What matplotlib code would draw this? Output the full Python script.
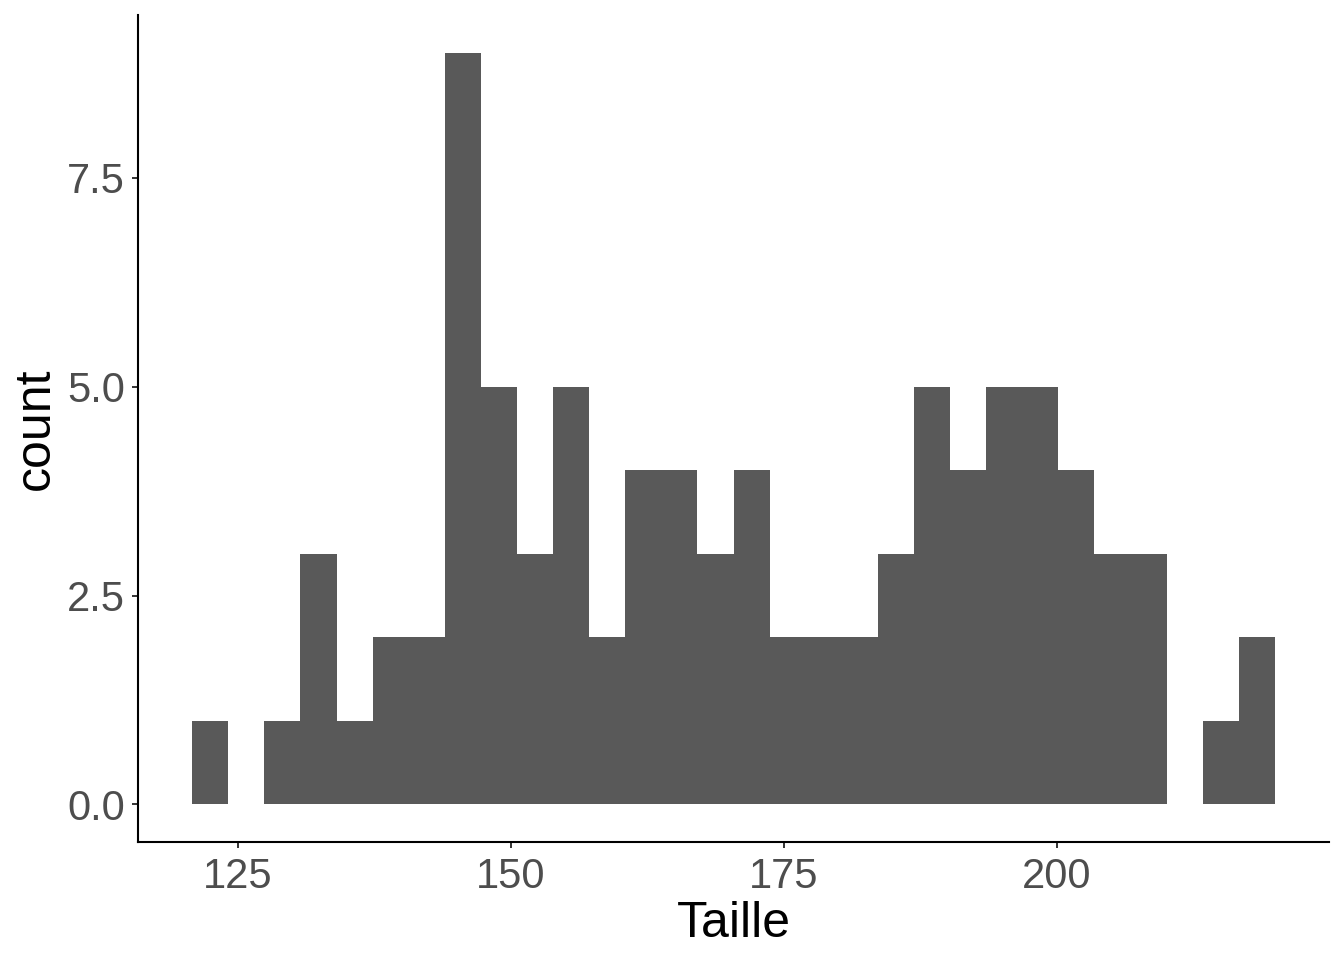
import numpy as np
import matplotlib
matplotlib.use("Agg")
import matplotlib.pyplot as plt

counts = [1, 0, 1, 3, 1, 2, 2, 9, 5, 3, 5, 2, 4, 4, 3, 4, 2, 2, 2, 3, 5, 4, 5, 5, 4, 3, 3, 0, 1, 2]
bin_start = 120.79
bin_end = 219.96
x_ticks = [125, 150, 175, 200]
y_ticks = [0.0, 2.5, 5.0, 7.5]
y_tick_labels = ["0.0", "2.5", "5.0", "7.5"]

plt.rcParams['font.family'] = ['Liberation Sans', 'DejaVu Sans']

fig = plt.figure(figsize=(13.44, 9.6), dpi=100)
W, H = 1344, 960
ax = fig.add_axes([138 / W, 1 - 842 / H, (1329 - 138) / W, (842 - 15) / H])

edges = np.linspace(bin_start, bin_end, len(counts) + 1)
centers = (edges[:-1] + edges[1:]) / 2
ax.hist(centers, bins=edges, weights=counts, color="#595959", edgecolor="none")

rng = bin_end - bin_start
ax.set_xlim(bin_start - 0.05 * rng, bin_end + 0.05 * rng)
ymax = max(counts)
ax.set_ylim(-0.05 * ymax, ymax * 1.05)

ax.set_xticks(x_ticks)
ax.set_xticklabels([str(t) for t in x_ticks])
ax.set_yticks(y_ticks)
ax.set_yticklabels(y_tick_labels)

for s in ["top", "right"]:
    ax.spines[s].set_visible(False)
for s in ["left", "bottom"]:
    ax.spines[s].set_linewidth(1.5)
    ax.spines[s].set_color("black")

ax.tick_params(axis="both", length=4.5, width=1.4, color="#333333",
               labelsize=30, labelcolor="#4D4D4D", pad=5)
ax.tick_params(axis="x", pad=6)

ax.set_xlabel("Taille", fontsize=36, color="black", labelpad=3)
ax.set_ylabel("count", fontsize=36, color="black", labelpad=6)

fig.savefig("out.png", dpi=100, facecolor="white")
